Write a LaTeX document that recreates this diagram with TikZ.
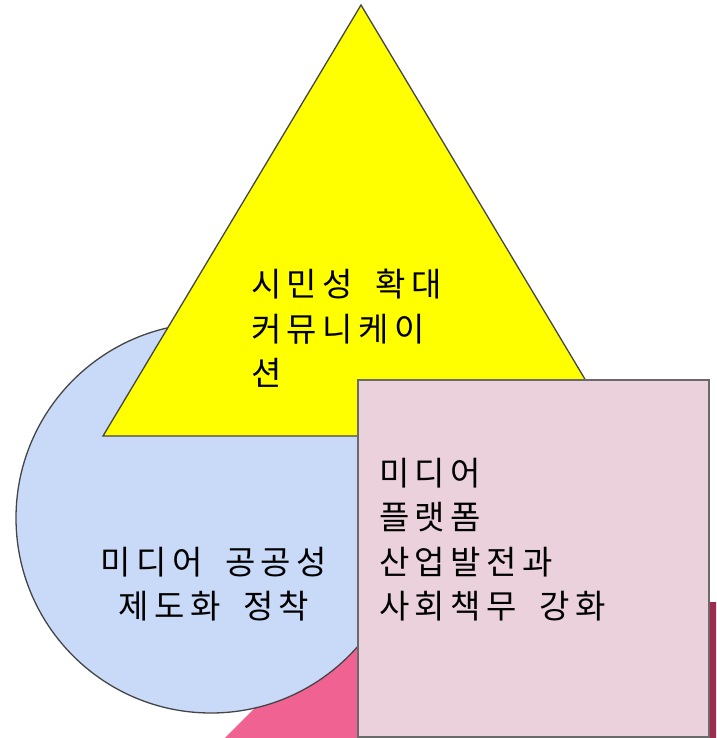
\documentclass[tikz,border=0pt]{standalone}
\usepackage{fontspec}
\newfontfamily\kr{Noto Sans CJK KR}[LetterSpace=17,WordSpace=1.7]
\definecolor{triyellow}{HTML}{FFFF00}
\definecolor{circblue}{HTML}{C9DAF8}
\definecolor{sqpink}{HTML}{EAD1DC}
\definecolor{hotpink}{HTML}{F06292}
\definecolor{maroon}{HTML}{9E2B50}
\definecolor{edgegray}{HTML}{454545}
\begin{document}
\begin{tikzpicture}[x=1pt,y=-1pt,
  outlined/.style={draw=edgegray,line width=1.3pt,line join=miter},
  lbl/.style={inner sep=0pt,outer sep=0pt,font=\kr\fontsize{33}{44.5}\selectfont,text=black}]
\useasboundingbox (0,0) rectangle (716,738);
\begin{scope}
\clip (0,0) rectangle (716,738);
\fill[hotpink] (223,740) -- (360,602) -- (712,602) -- (712,740) -- cycle;
\fill[maroon] (709,602) rectangle (718,740);
\path[outlined,fill=circblue] (211,518) circle[radius=195];
\path[outlined,fill=triyellow] (361,5) -- (103,436) -- (619,436) -- cycle;
\path[outlined,fill=sqpink,draw=edgegray!80] (358,380) rectangle (709,737);
\end{scope}
\node[lbl,anchor=north west,align=left] (tri) at (251,269) {시민성 확대\\커뮤니케이\\션};
\node[lbl,anchor=north,align=center] (circ) at (214,547) {미디어 공공성\\제도화 정착};
\node[lbl,anchor=north west,align=left] (sq) at (379,458) {미디어\\플랫폼\\산업발전과\\사회책무 강화};
\end{tikzpicture}
\end{document}
